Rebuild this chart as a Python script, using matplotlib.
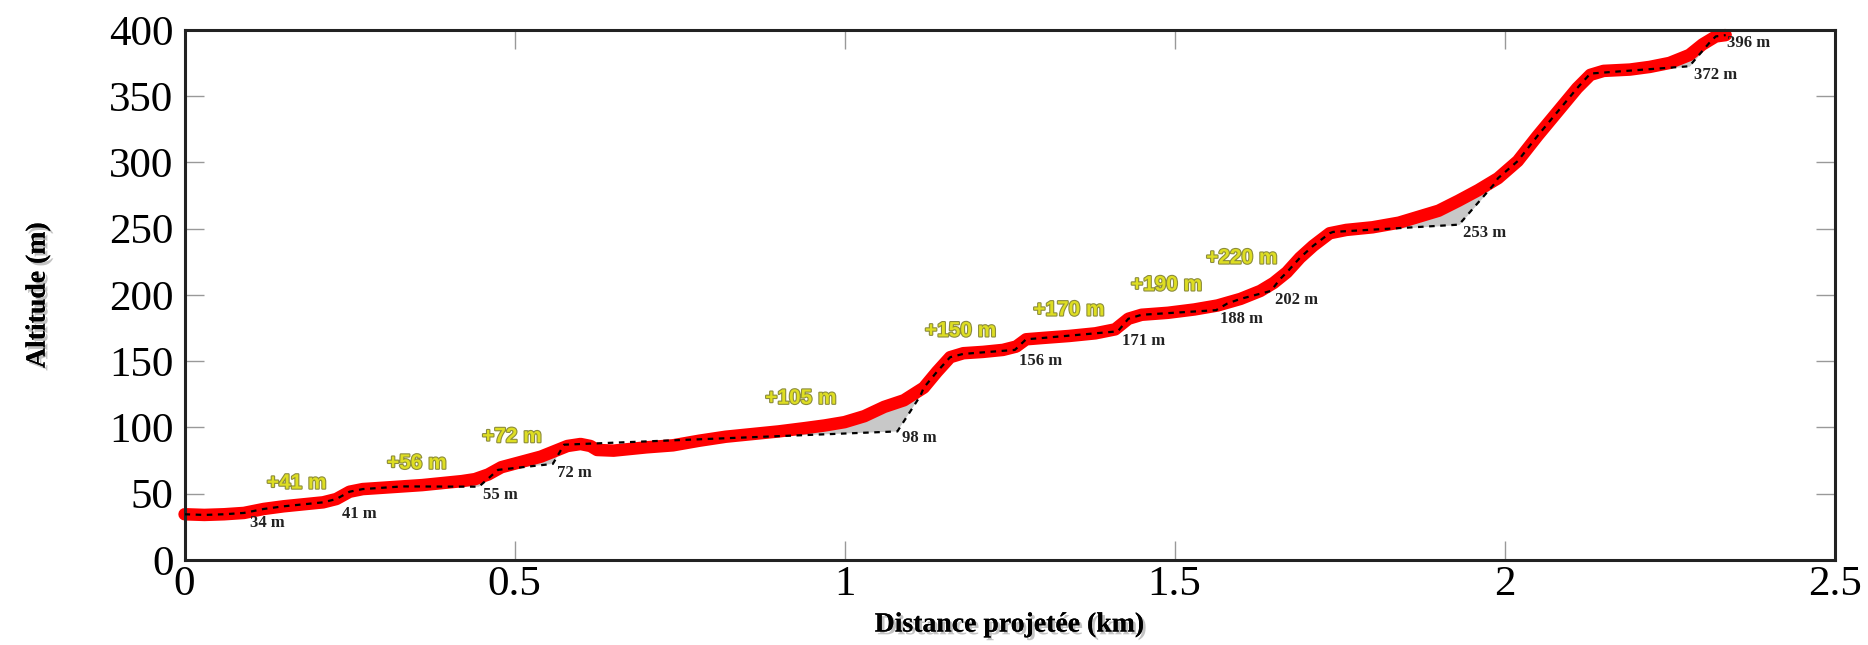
import numpy as np
import matplotlib
matplotlib.use("Agg")
from matplotlib import pyplot as plt
from matplotlib import patheffects as pe

# Altitude profile (red trace)
dist_km = np.array([0.00, 0.03, 0.06, 0.09, 0.12, 0.15, 0.18, 0.21, 0.23, 0.25,
                    0.27, 0.30, 0.33, 0.36, 0.39, 0.42, 0.44, 0.46, 0.48, 0.51,
                    0.54, 0.56, 0.58, 0.60, 0.615, 0.625, 0.65, 0.67, 0.70, 0.74,
                    0.78, 0.82, 0.86, 0.90, 0.94, 0.97, 1.00, 1.03, 1.06, 1.09,
                    1.12, 1.14, 1.16, 1.18, 1.21, 1.24, 1.26, 1.275, 1.30, 1.34,
                    1.38, 1.41, 1.43, 1.45, 1.49, 1.53, 1.565, 1.60, 1.63, 1.65,
                    1.67, 1.69, 1.71, 1.735, 1.76, 1.80, 1.84, 1.87, 1.90, 1.93,
                    1.96, 1.99, 2.02, 2.05, 2.08, 2.11, 2.13, 2.15, 2.19, 2.22,
                    2.25, 2.28, 2.30, 2.32, 2.335])
alt_m = np.array([34.5, 34, 34.5, 35.5, 38.5, 40.5, 42, 43.5, 46, 51.5,
                  53.5, 54.5, 55.5, 56.5, 58, 59.5, 61, 64.5, 70, 74,
                  78, 82, 86, 87.5, 86, 83, 82.5, 83.5, 85, 86.5,
                  90, 93, 95, 97, 99.5, 101.5, 104, 108.5, 115.5, 120.5,
                  130, 142, 153, 156, 157, 158.5, 161, 166.5, 167.5, 169,
                  171, 174, 182, 185, 186.5, 189, 192, 197, 203, 209,
                  217, 228, 237, 246.5, 249, 251, 254.5, 259, 263.5, 271,
                  279, 288, 301, 320, 338, 356, 366, 369, 370, 372,
                  375, 381, 389, 395, 396])

# Labelled break points of the straightened profile
step_x = [0.093, 0.232, 0.446, 0.558, 1.08, 1.258, 1.414, 1.563, 1.646, 1.931, 2.28, 2.33]
step_alt = [34, 41, 55, 72, 98, 156, 171, 188, 202, 253, 372, 396]

# Dashed shortcuts leaving the trace
chord_x = [[0.33, 0.446, 0.475, 0.558, 0.575, 1.08, 1.115],
           [1.18, 1.258, 1.275],
           [1.30, 1.414, 1.43],
           [1.45, 1.563, 1.58],
           [1.60, 1.646, 1.66],
           [1.74, 1.931, 1.985],
           [2.13, 2.28, 2.31]]
chord_y = [[55.5, 55.3, 68, 72.5, 87, 97, 124],
           [155.5, 158.5, 166.5],
           [167.5, 172.5, 182],
           [185, 188.5, 193.5],
           [197, 203, 212],
           [247.5, 253, 284],
           [367, 372.5, 390]]

# Cumulated gain labels
gain_text = ['+41 m', '+56 m', '+72 m', '+105 m', '+150 m', '+170 m', '+190 m', '+220 m']
gain_x = [0.17, 0.352, 0.496, 0.934, 1.176, 1.34, 1.488, 1.602]
gain_y = [58, 73, 93, 122, 172.8, 188.6, 207.5, 227.8]

serif = 'Liberation Serif'

fig = plt.figure(figsize=(18.68, 6.45), dpi=100)
ax = fig.add_axes([0.0988, 0.1318, 0.8833, 0.822])

# grey areas between trace and shortcut
for cx, cy in zip(chord_x, chord_y):
    inside = dist_km[(dist_km > cx[0]) & (dist_km < cx[-1])]
    xs = np.union1d(inside, cx)
    y_trace = np.interp(xs, dist_km, alt_m)
    y_chord = np.interp(xs, cx, cy)
    ax.fill_between(xs, y_trace, y_chord, where=y_trace > y_chord,
                    color='#c8c8c8', lw=0, interpolate=True, zorder=1)

ax.plot(dist_km, alt_m, color='red', lw=9, solid_capstyle='round',
        solid_joinstyle='round', zorder=2, clip_on=False)

# dashed profile = trace outside the shortcuts + shortcut vertices
keep = np.ones(len(dist_km), bool)
for cx in chord_x:
    keep &= ~((dist_km >= cx[0]) & (dist_km <= cx[-1]))
px = np.concatenate([dist_km[keep]] + [np.array(c) for c in chord_x])
py = np.concatenate([alt_m[keep]] + [np.array(c) for c in chord_y])
order = np.argsort(px)
ax.plot(px[order], py[order], color='black', lw=1.6, ls=(0, (2.5, 2.5)), zorder=3)

for x, a in zip(step_x, step_alt):
    ax.annotate(f'{a} m', (x, a), xytext=(3, 0), textcoords='offset points',
                ha='left', va='top', fontsize=12, fontweight='bold',
                family=serif, color='#222222', zorder=4)

for t, x, y in zip(gain_text, gain_x, gain_y):
    ax.text(x, y, t, ha='center', va='center', fontsize=15, fontweight='bold',
            family='Liberation Sans', color='#dede22', zorder=4,
            path_effects=[pe.withStroke(linewidth=1.6, foreground='#8c8c3c')])

ax.set_xlim(0, 2.5)
ax.set_ylim(0, 400)
ax.set_xticks([0, 0.5, 1, 1.5, 2, 2.5])
ax.set_xticklabels(['0', '0.5', '1', '1.5', '2', '2.5'])
ax.set_yticks(np.arange(0, 401, 50))
ax.tick_params(axis='both', direction='in', color='#999999', length=14, width=1,
               top=True, right=True, labelsize=31)
ax.tick_params(axis='y', pad=8)
ax.tick_params(axis='x', pad=4)
for lab in ax.get_xticklabels() + ax.get_yticklabels():
    lab.set_family(serif)

for s in ax.spines.values():
    s.set_linewidth(2.2)
    s.set_color('#222222')

shadow = [pe.withSimplePatchShadow(offset=(2, -2), shadow_rgbFace='#888888', alpha=0.5), pe.Normal()]
ax.set_ylabel('Altitude (m)', family=serif, fontsize=20, fontweight='bold',
              labelpad=42, path_effects=shadow)
ax.set_xlabel('Distance projetée (km)', family=serif, fontsize=20, fontweight='bold',
              labelpad=6, path_effects=shadow)

fig.savefig('out.png', dpi=100)
